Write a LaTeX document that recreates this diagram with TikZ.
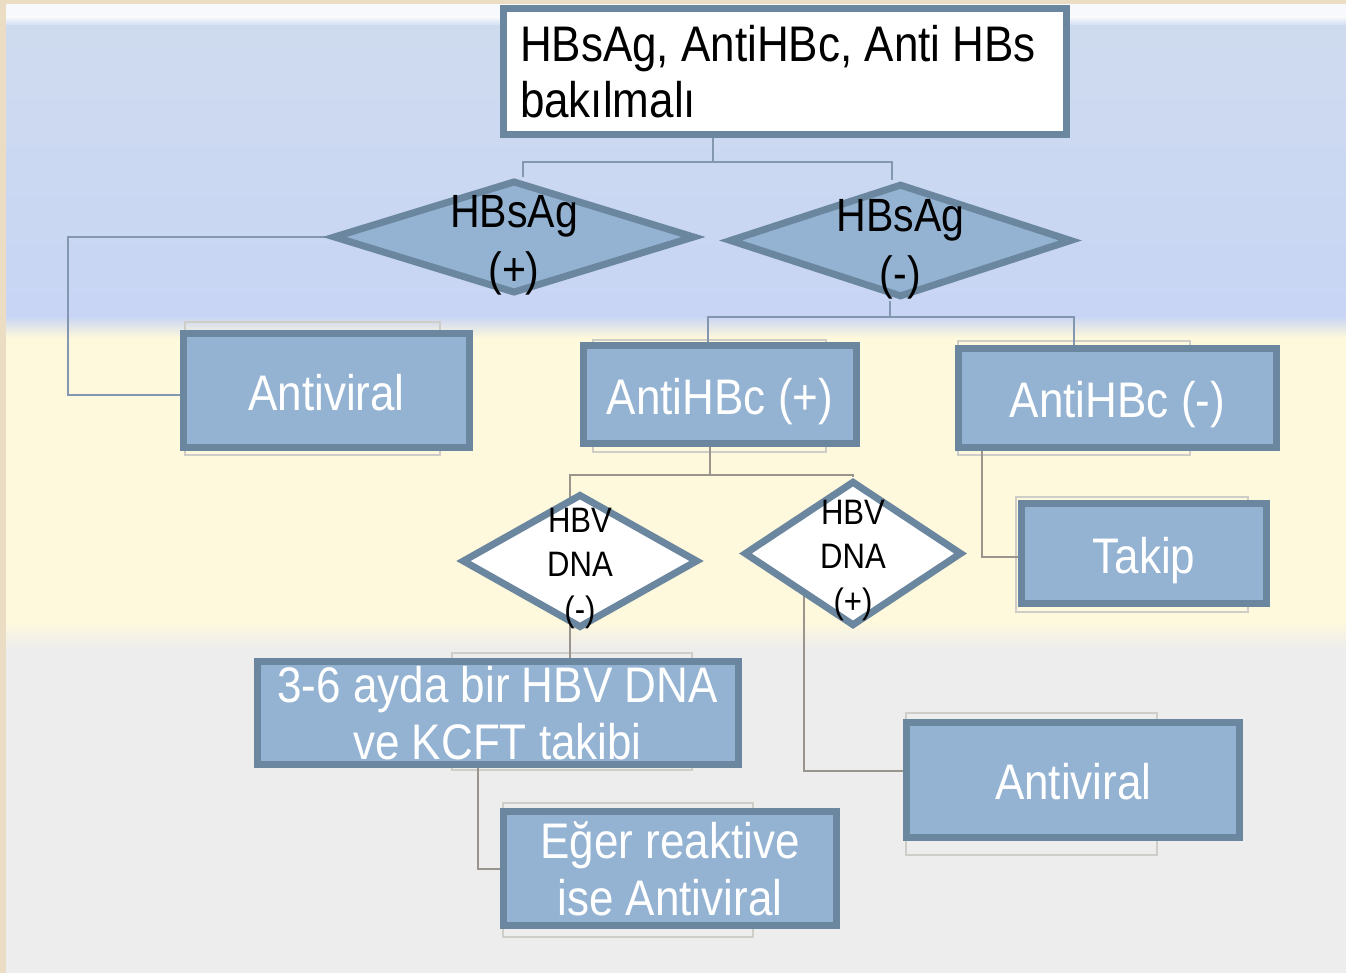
\documentclass[tikz,border=0pt]{standalone}
\usepackage{fontspec}
\setmainfont{Liberation Sans}[FakeStretch=0.88]
\usetikzlibrary{shapes.geometric}
\definecolor{beige}{HTML}{EBDDC3}
\definecolor{topstrip}{HTML}{F7F9FC}
\definecolor{blueA}{HTML}{CEDBEF}
\definecolor{blueB}{HTML}{C8D5F4}
\definecolor{yellowband}{HTML}{FEF8DC}
\definecolor{grayband}{HTML}{EDEDED}
\definecolor{boxc}{HTML}{94B3D2}
\definecolor{bordc}{HTML}{6A879F}
\definecolor{connc}{HTML}{8497B0}
\definecolor{conngray}{HTML}{9A958C}
\definecolor{ghostc}{HTML}{CFCDC8}
\pgfdeclarelayer{back}
\pgfdeclarelayer{bg}
\pgfsetlayers{back,bg,main}
\tikzset{
  boxnode/.style={draw=bordc, fill=boxc, line width=5.25pt, inner sep=0pt, text=white,
    font=\fontsize{37.5}{42.75}\selectfont, align=center},
  oneline/.style={text height=30pt, text depth=0pt},
  topbox/.style={draw=bordc, fill=white, line width=5.25pt, inner sep=0pt, text=black,
    font=\fontsize{37.5}{42}\selectfont, align=flush left},
  dia/.style={shape=diamond, draw=bordc, line width=5.25pt, inner sep=0pt, line join=miter},
  bigdlab/.style={font=\fontsize{35}{43.5}\selectfont, align=center, text=black},
  smalldlab/.style={font=\fontsize{26.5}{33.4}\selectfont, align=center, text=black},
  conn/.style={draw=connc, line width=1.5pt},
  conngr/.style={draw=conngray, line width=1.5pt},
  ghost/.style={draw=ghostc, line width=1.3pt}
}
\begin{document}
\begin{tikzpicture}[x=0.75pt,y=-0.75pt]
\useasboundingbox (0,0) rectangle (1346,973);
\begin{pgfonlayer}{back}
  \fill[beige] (0,0) rectangle (1346,973);
  \fill[topstrip] (6,4) rectangle (1346,17);
  \shade[top color=topstrip, bottom color=blueA] (6,17) rectangle (1346,26);
  \shade[top color=blueA, bottom color=blueB] (6,26) rectangle (1346,316);
  \shade[top color=blueB, bottom color=yellowband] (6,316) rectangle (1346,338);
  \fill[yellowband] (6,338) rectangle (1346,622);
  \shade[top color=yellowband, bottom color=grayband] (6,622) rectangle (1346,648);
  \fill[grayband] (6,648) rectangle (1346,973);
\end{pgfonlayer}

% nodes
\node[topbox, minimum width=422.25pt, minimum height=94.5pt, text width=397.5pt] (top) at (785,71.5)
  {HBsAg, AntiHBc, Anti HBs\\bakılmalı};
\node[dia, fill=boxc, minimum width=271.5pt, minimum height=84.75pt,
  label={[bigdlab, yshift=-6.2pt]center:{HBsAg\\(+)}}] (d1) at (514,237) {};
\node[dia, fill=boxc, minimum width=257.25pt, minimum height=85.2pt,
  label={[bigdlab, yshift=-6.5pt]center:{HBsAg\\(-)}}] (d2) at (900.5,240.5) {};
\node[boxnode, oneline, minimum width=214.5pt, minimum height=85.5pt] (av1) at (326.5,390.5) {Antiviral};
\node[boxnode, oneline, minimum width=204.75pt, minimum height=73.5pt] (ahp) at (720,394.5) {AntiHBc (+)};
\node[boxnode, oneline, minimum width=238.5pt, minimum height=74.25pt] (ahm) at (1117.5,398) {AntiHBc (-)};
\node[dia, fill=white, minimum width=177pt, minimum height=100.5pt,
  label={[smalldlab, yshift=-5.6pt]center:{HBV\\DNA\\(-)}}] (d3) at (580,561) {};
\node[dia, fill=white, minimum width=163.5pt, minimum height=109pt,
  label={[smalldlab, yshift=-5.25pt]center:{HBV\\DNA\\(+)}}] (d4) at (853,553.5) {};
\node[boxnode, oneline, minimum width=183.75pt, minimum height=75pt] (tk) at (1144,553.5) {Takip};
\node[boxnode, minimum width=360.75pt, minimum height=77.25pt] (b36) at (497.5,713)
  {3-6 ayda bir HBV DNA\\ve KCFT takibi};
\node[boxnode, minimum width=249.75pt, minimum height=85.5pt] (eg) at (670,868.5)
  {Eğer reaktive\\ise Antiviral};
\node[boxnode, oneline, minimum width=249.4pt, minimum height=86pt] (av2) at (1073.25,779.85) {Antiviral};

% connectors and shadows
\begin{pgfonlayer}{bg}
  \draw[ghost] (185,322) rectangle (440,455);
  \draw[ghost] (593,340) rectangle (826,452);
  \draw[ghost] (958,341) rectangle (1190,455);
  \draw[ghost] (1016,497) rectangle (1248,612);
  \draw[ghost] (452,653) rectangle (692,770);
  \draw[ghost] (503,803) rectangle (753,937);
  \draw[ghost] (906,713) rectangle (1157,855);

  \coordinate (t1) at (713,162);
  \draw[conn] (top.south -| t1) -- (t1);
  \draw[conn] (t1) -| ([xshift=6.75pt]d1.north);
  \draw[conn] (t1) -| ([xshift=-6.4pt]d2.north);
  \coordinate (t2) at (68,237);
  \draw[conn] (d1.west) -- (t2) |- ([yshift=-3.4pt]av1.west);
  \coordinate (t3) at (890,317);
  \draw[conn] (d2.south -| t3) -- (t3);
  \draw[conn] (t3) -| ([xshift=-9pt]ahp.north);
  \draw[conn] (t3) -| ([xshift=-32.6pt]ahm.north);
  \coordinate (t4) at (710,475);
  \coordinate (t5) at (570,475);
  \draw[conngr] (ahp.south -| t4) -- (t4);
  \draw[conngr] (t4) -- (t5) -- (t5 |- b36.north);
  \draw[conngr] (t4) -| (d4.north);
  \draw[conngr] ([xshift=-101.6pt]ahm.south) |- ([yshift=-2.6pt]tk.west);
  \draw[conngr] ([xshift=5.25pt]d4.south west) |- ([yshift=6.75pt]av2.west);
  \draw[conngr] ([xshift=-15pt]b36.south) |- (eg.west);
\end{pgfonlayer}
\end{tikzpicture}
\end{document}
